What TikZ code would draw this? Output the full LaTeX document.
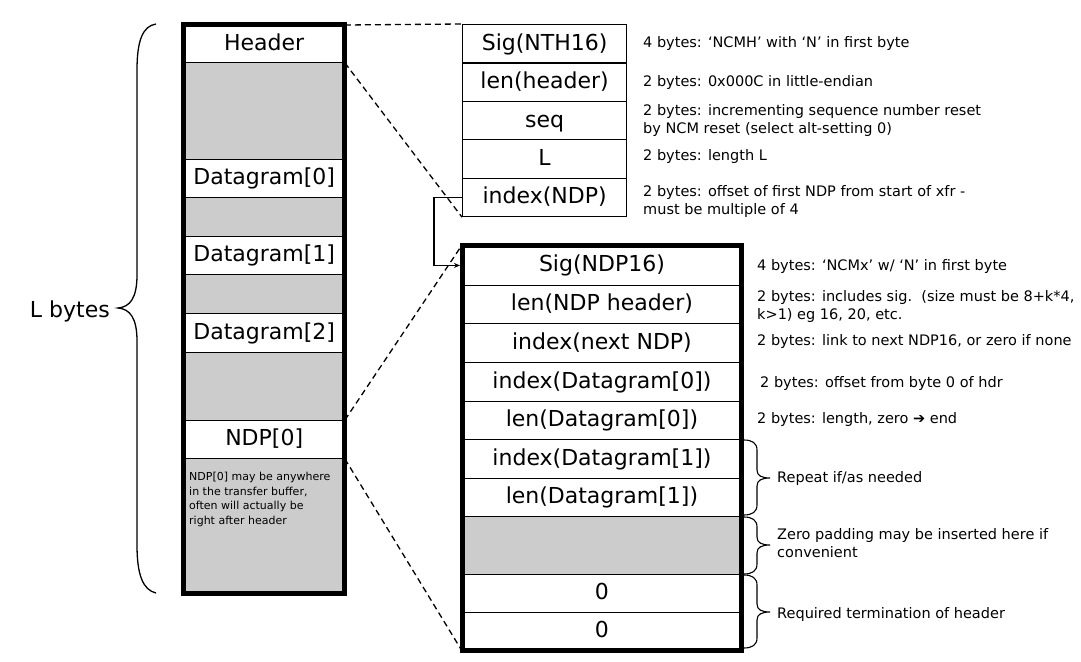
\documentclass[tikz,border=0pt]{standalone}
\usepackage{fontspec}
\setmainfont{DejaVu Sans}
\usetikzlibrary{arrows.meta}
\definecolor{cellgray}{HTML}{CCCCCC}
\newcommand{\sidebrace}[4]{% x, y1, ymid, y2
  \draw[bracestyle] (#1,#2) .. controls (#1+8,#2) and (#1+13,#2+3) .. (#1+13,#2+10)
    -- (#1+13,#3-8) .. controls (#1+13,#3-2) and (#1+18,#3) .. (#1+26,#3)
    .. controls (#1+18,#3) and (#1+13,#3+2) .. (#1+13,#3+8)
    -- (#1+13,#4-10) .. controls (#1+13,#4-3) and (#1+8,#4) .. (#1,#4);}
\begin{document}
\begin{tikzpicture}[x=1pt,y=-1pt,
  big/.style={font=\fontsize{22}{24}\selectfont},
  row/.style={big,draw=black,line width=0.9pt,anchor=north west,inner sep=0pt,
    text height=16pt,text depth=3pt},
  lrow/.style={row,minimum width=160.5pt},
  trow/.style={row,minimum width=164pt,line width=1.2pt},
  nrow/.style={row,minimum width=279pt},
  shade/.style={fill=cellgray},
  frame/.style={line width=5pt},
  dashline/.style={line width=1.3pt,dash pattern=on 6pt off 4pt},
  note/.style={font=\fontsize{14.5}{18}\selectfont,anchor=base west,inner sep=0pt,align=left},
  bracestyle/.style={line width=1.1pt}
]
\useasboundingbox (0,0) rectangle (1081,661);

% ---- left column: transfer buffer
\node[lrow,fill=white,minimum height=37pt] (hdr) at (183.5,25) {Header};
\node[lrow,shade,minimum height=97pt] (g1) at (183.5,62) {};
\node[lrow,fill=white,minimum height=38pt] (d0) at (183.5,159) {Datagram[0]};
\node[lrow,shade,minimum height=39pt] (g2) at (183.5,197) {};
\node[lrow,fill=white,minimum height=38pt] (d1) at (183.5,236) {Datagram[1]};
\node[lrow,shade,minimum height=39pt] (g3) at (183.5,274) {};
\node[lrow,fill=white,minimum height=39pt] (d2) at (183.5,313) {Datagram[2]};
\node[lrow,shade,minimum height=68pt] (g4) at (183.5,352) {};
\node[lrow,fill=white,minimum height=38pt] (ndp0) at (183.5,420) {NDP[0]};
\node[lrow,shade,minimum height=135pt] (g5) at (183.5,458) {};
\draw[frame] (hdr.north west) rectangle (g5.south east);
\node[anchor=north west,align=left,inner sep=0pt,font=\fontsize{11}{14.5}\selectfont] (remark)
  at (189,472) {NDP[0] may be anywhere\\in the transfer buffer,\\often will actually be\\right after header};

% ---- brace L bytes
\draw[line width=1.3pt] (156,24) .. controls (143,26) and (137,40) .. (137,70) -- (137,275)
  .. controls (137,298) and (130,307) .. (118,308)
  .. controls (130,309) and (137,318) .. (137,341) -- (137,545)
  .. controls (137,575) and (143,590) .. (156,593);
\node[big,anchor=east,inner sep=0pt] (lbytes) at (110,311) {L bytes};

% ---- NTH16 header
\node[trow,fill=white,minimum height=38.4pt] (sig) at (462,24) {Sig(NTH16)};
\node[trow,fill=white,minimum height=38.4pt] (len) at (462,62.4) {len(header)};
\node[trow,fill=white,minimum height=38.4pt] (seq) at (462,100.8) {seq};
\node[trow,fill=white,minimum height=38.4pt] (L) at (462,139.2) {L};
\node[trow,fill=white,minimum height=38.4pt] (idx) at (462,177.6) {index(NDP)};

\node[note] (a1) at (643,48) {4 bytes: ‘NCMH’ with ‘N’ in first byte};
\node[note] (a2) at (643,86) {2 bytes: 0x000C in little-endian};
\node[note] (a3) at (643,133) {2 bytes: incrementing sequence number reset\\by NCM reset (select alt-setting 0)};
\node[note] (a4) at (643,160) {2 bytes: length L};
\node[note] (a5) at (643,214) {2 bytes: offset of first NDP from start of xfr -\\must be multiple of 4};

% ---- NDP16
\node[nrow,fill=white,minimum height=40pt] (nsig) at (462,245) {Sig(NDP16)};
\node[nrow,fill=white,minimum height=38pt] (nlen) at (462,285) {len(NDP header)};
\node[nrow,fill=white,minimum height=39pt] (nnext) at (462,323) {index(next NDP)};
\node[nrow,fill=white,minimum height=39pt] (ni0) at (462,362) {index(Datagram[0])};
\node[nrow,fill=white,minimum height=38pt] (nl0) at (462,401) {len(Datagram[0])};
\node[nrow,fill=white,minimum height=39pt] (ni1) at (462,439) {index(Datagram[1])};
\node[nrow,fill=white,minimum height=38pt] (nl1) at (462,478) {len(Datagram[1])};
\node[nrow,shade,minimum height=58pt] (npad) at (462,516) {};
\node[nrow,fill=white,minimum height=38pt] (z1) at (462,574) {0};
\node[nrow,fill=white,minimum height=38pt] (z2) at (462,612) {0};
\draw[frame] (nsig.north west) rectangle (z2.south east);

\node[note] (b1) at (757,270) {4 bytes: ‘NCMx’ w/ ‘N’ in first byte};
\node[note] (b2) at (757,319) {2 bytes: includes sig.\ \ (size must be 8+k*4,\\k>1) eg 16, 20, etc.};
\node[note] (b3) at (757,345) {2 bytes: link to next NDP16, or zero if none};
\node[note] (b4) at (760,387) {2 bytes: offset from byte 0 of hdr};
\node[note] (b5) at (757,423) {2 bytes: length, zero ➔ end};
\node[note] (b6) at (777,482) {Repeat if/as needed};
\node[note] (b7) at (777,557) {Zero padding may be inserted here if\\convenient};
\node[note] (b8) at (777,618) {Required termination of header};

\sidebrace{744}{440}{478}{515}
\sidebrace{744}{517}{545}{574}
\sidebrace{744}{575}{612}{648}

% ---- connectors
\draw[dashline] (hdr.north east) -- (sig.north west);
\draw[dashline] (hdr.south east) -- (idx.south west);
\draw[dashline] (ndp0.north east) -- (nsig.north west);
\draw[dashline] (ndp0.south east) -- (z2.south west);
\draw[line width=1.1pt,-{Stealth[length=6pt,width=5pt]},shorten >=2pt] (idx.west) -- ++(-28,0) |- (nsig.west);
\end{tikzpicture}
\end{document}
